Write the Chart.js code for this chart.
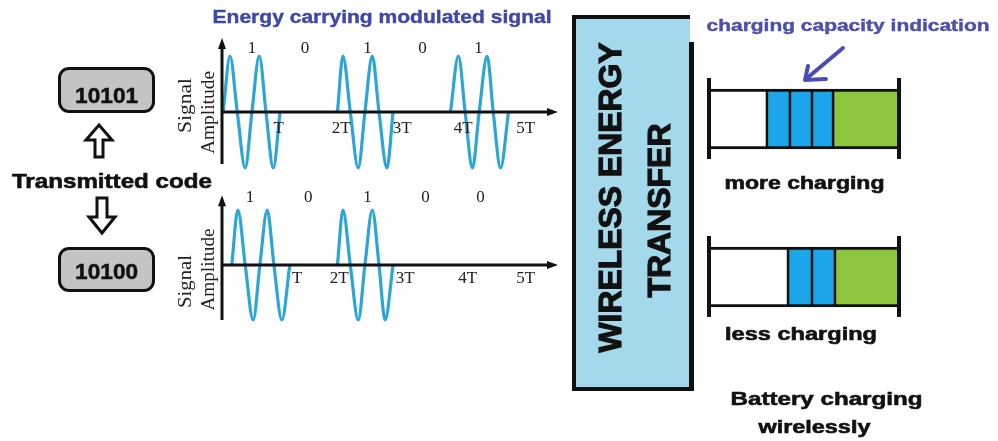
<!DOCTYPE html>
<html>
<head>
<meta charset="utf-8">
<script src="https://cdn.jsdelivr.net/npm/chart.js@4/dist/chart.umd.min.js"></script>
<style>
  html, body { margin:0; padding:0; background:#fff; }
  body { width:998px; height:441px; position:relative; overflow:hidden; }
  canvas { position:absolute; }
  .box { position:absolute; box-sizing:border-box; }
</style>
</head>
<body>
<script>
// ---------------- DATA ----------------
const tickLabels = ['T', '2T', '3T', '4T', '5T'];
const topTickX = [0.93, 1.95, 2.95, 3.95, 4.97];
const bottomTickX = [1.23, 1.92, 3.0, 4.02, 4.97];

const topBits = ['1', '0', '1', '0', '1'];
const topBitX = [0.49, 1.36, 2.38, 3.28, 4.20];
const bottomBits = ['1', '0', '1', '0', '0'];
const bottomBitX = [0.46, 1.41, 2.38, 3.33, 4.23];

// signal samples (zero crossings and extremes), null = no signal
const topSignalX = [0.02,0.13,0.25,0.38,0.49,0.61,0.72,0.84,0.95, 1.4,
                    1.89,1.98,2.10,2.23,2.34,2.46,2.57,2.70,2.80, 3.3,
                    3.74,3.87,3.98,4.10,4.21,4.34,4.44,4.56,4.69];
const topSignalY = [0,1,0,-1,0,1,0,-1,0, null,
                    0,1,0,-1,0,1,0,-1,0, null,
                    0,1,0,-1,0,1,0,-1,0];
const bottomSignalX = [0.16,0.26,0.38,0.51,0.62,0.74,0.85,0.98,1.11, 1.5,
                       1.89,1.98,2.10,2.23,2.34,2.46,2.57,2.67,2.80];
const bottomSignalY = [0,1,0,-1,0,1,0,-1,0, null,
                       0,1,0,-1,0,1,0,-1,0];

const batteryLabels = ['more charging', 'less charging'];
const emptyPart   = [30.5, 41.6];
const cell1       = [12.1, 12.6];
const cell2       = [11.6, 12.1];
const cell3       = [11.1, null];
const chargedPart = [34.7, 33.7];

const codes = ['10101', '10100'];

// ---------------- HELPERS ----------------
function addText(t) {
  const el = document.createElement('div');
  el.textContent = t.text;
  el.style.cssText = 'position:absolute;white-space:nowrap;line-height:1;left:0;top:0;' +
    'font:' + (t.weight || 'bold') + ' ' + t.size + 'px ' + (t.family || '"Liberation Sans", Arial, sans-serif') + ';' +
    'color:' + (t.color || '#111') + ';transform-origin:center center;z-index:5;' +
    (t.stroke ? '-webkit-text-stroke:' + t.stroke + 'px ' + (t.color || '#111') + ';' : '');
  document.body.appendChild(el);
  const r = el.getBoundingClientRect();
  const w = r.width, h = r.height;
  const s = t.width ? t.width / w : 1;
  if (!t.rotate) {
    el.style.left = (t.cx - w / 2) + 'px';
    el.style.top = (t.base - 0.8465 * t.size) + 'px';
    el.style.transform = 'scaleX(' + s + ')';
  } else {
    el.style.left = (t.cx - w / 2) + 'px';
    el.style.top = (t.cy - h / 2) + 'px';
    el.style.transform = 'rotate(-90deg) scaleX(' + s + ')';
  }
  return el;
}
function addBox(css) {
  const d = document.createElement('div');
  d.className = 'box';
  d.style.cssText += css;
  document.body.appendChild(d);
  return d;
}
function addCanvas(left, top, w, h) {
  const c = document.createElement('canvas');
  c.width = w; c.height = h;
  c.style.left = left + 'px'; c.style.top = top + 'px';
  c.style.width = w + 'px'; c.style.height = h + 'px';
  document.body.appendChild(c);
  return c;
}
function pts(xs, ys) { return xs.map((x, i) => ({ x: x, y: ys[i] })); }

// ---------------- SIGNAL CHART PLUGIN ----------------
const signalAxes = {
  id: 'signalAxes',
  afterDatasetsDraw(chart, args, o) {
    const ctx = chart.ctx, xs = chart.scales.x, ys = chart.scales.y;
    const x0 = xs.getPixelForValue(0), y0 = ys.getPixelForValue(0);
    const yTop = ys.getPixelForValue(o.axisTop), yBot = ys.getPixelForValue(o.axisBottom);
    const xEnd = xs.getPixelForValue(o.axisEnd);
    ctx.save();
    ctx.strokeStyle = '#111'; ctx.fillStyle = '#111'; ctx.lineWidth = 3;
    ctx.beginPath(); ctx.moveTo(x0, yBot); ctx.lineTo(x0, yTop + 8); ctx.stroke();
    ctx.beginPath(); ctx.moveTo(x0, yTop); ctx.lineTo(x0 - 4, yTop + 11); ctx.lineTo(x0 + 4, yTop + 11); ctx.closePath(); ctx.fill();
    ctx.beginPath(); ctx.moveTo(x0, y0); ctx.lineTo(xEnd - 8, y0); ctx.stroke();
    ctx.beginPath(); ctx.moveTo(xEnd, y0); ctx.lineTo(xEnd - 11, y0 - 4); ctx.lineTo(xEnd - 11, y0 + 4); ctx.closePath(); ctx.fill();
    ctx.font = '17px "Liberation Serif", "Times New Roman", serif';
    ctx.textAlign = 'center'; ctx.textBaseline = 'middle'; ctx.fillStyle = '#222';
    o.ticks.forEach((t, i) => ctx.fillText(t, xs.getPixelForValue(o.tickX[i]), ys.getPixelForValue(o.tickY)));
    o.bits.forEach((b, i) => ctx.fillText(b, xs.getPixelForValue(o.bitX[i]), ys.getPixelForValue(o.bitY)));
    ctx.restore();
  }
};

function signalChart(canvas, data, pad, axes) {
  return new Chart(canvas, {
    type: 'line',
    data: { datasets: [{
      data: data, borderColor: '#2ba6d6', borderWidth: 3.2, pointRadius: 0,
      cubicInterpolationMode: 'monotone', spanGaps: false, clip: false, fill: false
    }]},
    options: {
      responsive: false, animation: false, devicePixelRatio: 1,
      layout: { padding: pad },
      plugins: { legend: { display: false }, tooltip: { enabled: false }, signalAxes: axes },
      scales: {
        x: { type: 'linear', min: 0, max: 5.5, display: false },
        y: { type: 'linear', min: -1, max: 1, display: false }
      }
    },
    plugins: [signalAxes]
  });
}

signalChart(addCanvas(170, 0, 400, 190), pts(topSignalX, topSignalY),
  { left: 52, right: 12, top: 56, bottom: 22 },
  { axisTop: 1.32, axisBottom: -0.93, axisEnd: 5.5, ticks: tickLabels, tickX: topTickX, tickY: -0.29,
    bits: topBits, bitX: topBitX, bitY: 1.14 });

signalChart(addCanvas(170, 185, 400, 150), pts(bottomSignalX, bottomSignalY),
  { left: 52, right: 12, top: 25, bottom: 15 },
  { axisTop: 1.27, axisBottom: -1.0, axisEnd: 5.5, ticks: tickLabels, tickX: bottomTickX, tickY: -0.24,
    bits: bottomBits, bitX: bottomBitX, bitY: 1.22 });

// ---------------- BATTERY CHART ----------------
const batteryTerminals = {
  id: 'batteryTerminals',
  afterDatasetsDraw(chart) {
    const ctx = chart.ctx, xs = chart.scales.x, ys = chart.scales.y;
    ctx.save(); ctx.strokeStyle = '#111'; ctx.lineWidth = 4;
    chart.data.labels.forEach((l, j) => {
      let sum = 0;
      chart.data.datasets.forEach(ds => { sum += ds.data[j] || 0; });
      const yc = ys.getPixelForValue(j);
      [0, sum].forEach(v => {
        const x = xs.getPixelForValue(v);
        ctx.beginPath(); ctx.moveTo(x, yc - 41); ctx.lineTo(x, yc + 40); ctx.stroke();
      });
    });
    ctx.restore();
  }
};
const segBorder = { top: 3, bottom: 3, left: 1.6, right: 1.6 };
function seg(data, color) {
  return { data: data, backgroundColor: color, borderColor: '#111', borderWidth: segBorder,
           borderSkipped: false, barThickness: 60, stack: 's' };
}
new Chart(addCanvas(690, 30, 240, 340), {
  type: 'bar',
  data: { labels: batteryLabels, datasets: [
    seg(emptyPart, '#ffffff'), seg(cell1, '#1aa6e8'), seg(cell2, '#1aa6e8'),
    seg(cell3, '#1aa6e8'), seg(chargedPart, '#8cc63f')
  ]},
  options: {
    indexAxis: 'y', responsive: false, animation: false, devicePixelRatio: 1,
    layout: { padding: { left: 19, right: 31, top: 10, bottom: 14 } },
    plugins: { legend: { display: false }, tooltip: { enabled: false } },
    scales: {
      x: { stacked: true, min: 0, max: 100, display: false },
      y: { stacked: true, display: false }
    }
  },
  plugins: [batteryTerminals]
});

// ---------------- DIAGRAM ELEMENTS ----------------
// Wireless energy transfer box
addBox('left:572px;top:15px;width:118px;height:376px;background:#a3d9eb;border-left:4px solid #111;border-top:4px solid #111;border-bottom:4px solid #111;');
addBox('left:689px;top:42px;width:5px;height:349px;background:#111;');

// code boxes
addBox('left:58px;top:67px;width:97px;height:46px;background:#c4c4c4;border:3.5px solid #111;border-radius:11px;');
addBox('left:58px;top:247px;width:97px;height:45px;background:#c4c4c4;border:3.5px solid #111;border-radius:11px;');

// SVG arrows
const svgNS = 'http://www.w3.org/2000/svg';
const svg = document.createElementNS(svgNS, 'svg');
svg.setAttribute('width', '998'); svg.setAttribute('height', '441');
svg.style.cssText = 'position:absolute;left:0;top:0;z-index:4;';
svg.innerHTML =
  '<polygon points="99,125 112,140 103,140 103,157 95,157 95,140 86,140" fill="#fff" stroke="#111" stroke-width="3" stroke-linejoin="miter"/>' +
  '<polygon points="97,198 107,198 107,217 115,217 102,233 89,217 97,217" fill="#fff" stroke="#111" stroke-width="3" stroke-linejoin="miter"/>' +
  '<line x1="843" y1="48" x2="806" y2="79" stroke="#4a4db3" stroke-width="4" stroke-linecap="round"/>' +
  '<polyline points="808,66 805,80 826,79" fill="none" stroke="#4a4db3" stroke-width="4" stroke-linecap="round" stroke-linejoin="round"/>';
document.body.appendChild(svg);

// Texts
addText({ text: 'Energy carrying modulated signal', cx: 382, base: 22, size: 18, width: 339, color: '#3f47a8', stroke: 0.4 });
addText({ text: 'charging capacity indication', cx: 848, base: 31, size: 16, width: 283, color: '#4b4fae', stroke: 0.4 });
addText({ text: 'Transmitted code', cx: 112, base: 187, size: 21, width: 200, stroke: 0.6 });
addText({ text: codes[0], cx: 107, base: 102, size: 22, width: 63, stroke: 0.5 });
addText({ text: codes[1], cx: 107, base: 278, size: 22, width: 63, stroke: 0.5 });
addText({ text: batteryLabels[0], cx: 805, base: 188, size: 18, width: 160, stroke: 0.6 });
addText({ text: batteryLabels[1], cx: 801, base: 339, size: 18, width: 152, stroke: 0.6 });
addText({ text: 'Battery charging', cx: 826, base: 404, size: 19, width: 192, stroke: 0.6 });
addText({ text: 'wirelessly', cx: 814, base: 432, size: 19, width: 112, stroke: 0.6 });
addText({ text: 'WIRELESS ENERGY', cx: 611, cy: 197, size: 32, width: 310, rotate: true, stroke: 1.2 });
addText({ text: 'TRANSFER', cx: 659, cy: 210, size: 32, width: 174, rotate: true, stroke: 1.2 });
const serif = '"Liberation Serif", "Times New Roman", serif';
addText({ text: 'Signal', cx: 185, cy: 105, size: 18, width: 55, rotate: true, weight: 'normal', family: serif, color: '#222' });
addText({ text: 'Amplitude', cx: 208, cy: 112, size: 18, width: 83, rotate: true, weight: 'normal', family: serif, color: '#222' });
addText({ text: 'Signal', cx: 185, cy: 281, size: 18, width: 53, rotate: true, weight: 'normal', family: serif, color: '#222' });
addText({ text: 'Amplitude', cx: 208, cy: 269, size: 18, width: 82, rotate: true, weight: 'normal', family: serif, color: '#222' });
</script>
</body>
</html>
